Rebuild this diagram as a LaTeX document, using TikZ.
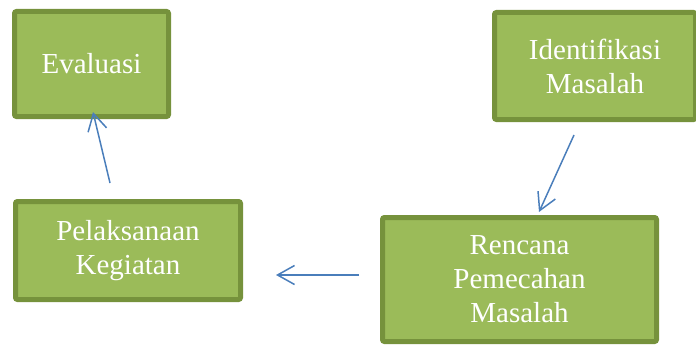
\documentclass[tikz,border=0pt]{standalone}
\usepackage{fontspec}
\setmainfont{Liberation Serif}
\usetikzlibrary{arrows.meta}
\definecolor{boxfill}{HTML}{9BBB59}
\definecolor{boxline}{HTML}{76923C}
\definecolor{arrowblue}{HTML}{4A7EBB}
\tikzset{
  greenbox/.style={draw=boxline, fill=boxfill, line width=5pt, rounded corners=2pt,
    text=white, align=center, inner sep=0pt,
    font=\fontsize{29pt}{34pt}\selectfont},
  flowarrow/.style={draw=arrowblue, line width=1.5pt,
    -{Straight Barb[length=17pt,width=19pt,line width=1.5pt]}}
}
\begin{document}
\begin{tikzpicture}[x=1pt,y=-1pt]
\useasboundingbox (0,0) rectangle (696,345);
\node[greenbox, minimum width=154pt, minimum height=105pt] (eval) at (91.5,64) {Evaluasi};
\node[greenbox, minimum width=201pt, minimum height=107pt] (ident) at (595,66) {Identifikasi\\Masalah};
\node[greenbox, minimum width=225pt, minimum height=98pt] (pelak) at (128,250.5) {Pelaksanaan\\Kegiatan};
\node[greenbox, minimum width=274pt, minimum height=124pt] (renc) at (519.5,279.5) {Rencana\\Pemecahan\\Masalah};
\coordinate (a1s) at (574,135);
\coordinate (a1e) at (539,212);
\coordinate (a2s) at (359,275);
\coordinate (a2e) at (276,275);
\coordinate (a3s) at (110,183);
\coordinate (a3e) at (93,112);
\draw[flowarrow] (a1s) -- (a1e);
\draw[flowarrow] (a2s) -- (a2e);
\draw[flowarrow] (a3s) -- (a3e);
\end{tikzpicture}
\end{document}
